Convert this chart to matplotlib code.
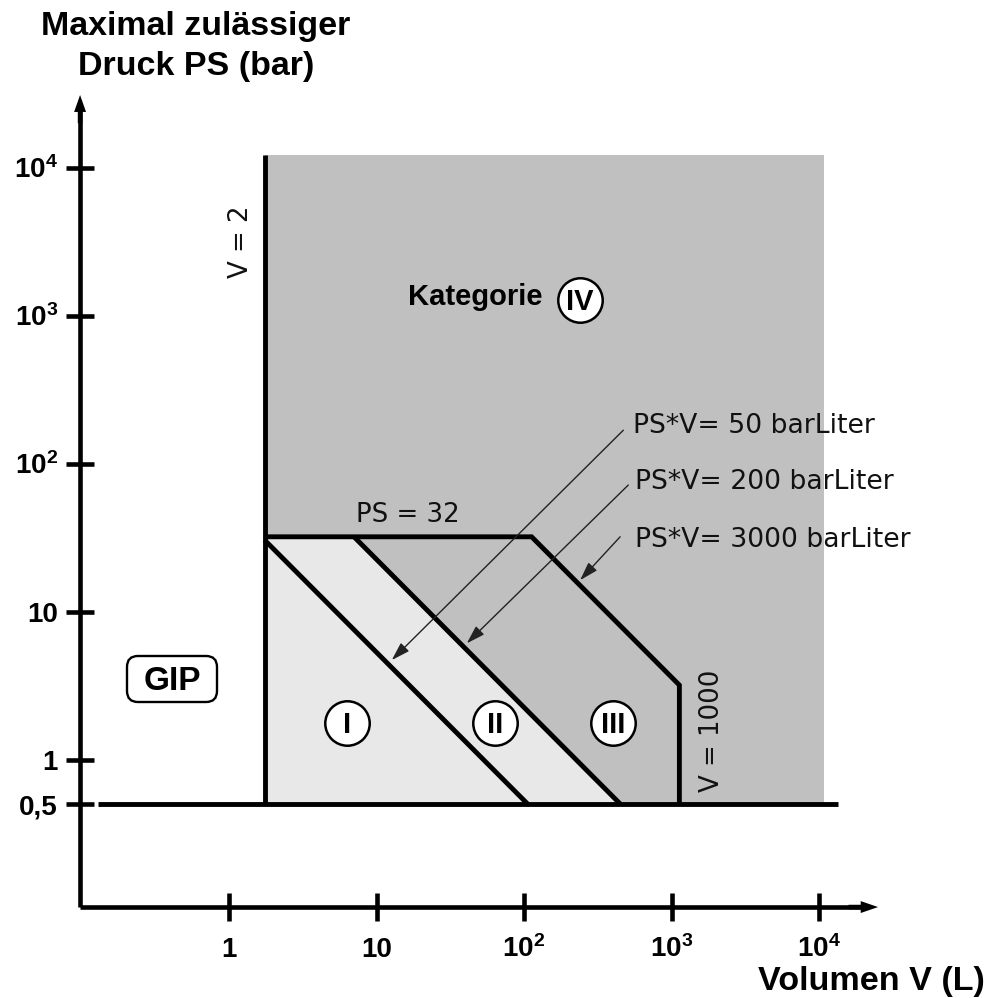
import matplotlib
matplotlib.use("Agg")
import matplotlib.pyplot as plt
from matplotlib.patches import FancyBboxPatch
from matplotlib.ticker import NullLocator

plt.rcParams['mathtext.fontset'] = 'custom'
plt.rcParams['mathtext.bf'] = 'Liberation Sans:bold'
plt.rcParams['mathtext.rm'] = 'Liberation Sans:bold'
plt.rcParams['mathtext.default'] = 'bf'

# Grenzen der Kategorien (so wie im Diagramm gezeichnet, log-log)
v_min = 1.74          # Linie "V = 2"
v_max = 1130          # Linie "V = 1000"
ps_min = 0.5
ps_cap = 32           # Linie "PS = 32"
pv_values = [53, 225, 3600]   # PS*V = 50 / 200 / 3000 barLiter
pv_labels = ["PS*V= 50 barLiter", "PS*V= 200 barLiter", "PS*V= 3000 barLiter"]
v_area_max = 1.08e4
ps_area_max = 1.22e4

x_ticks = [1, 10, 100, 1000, 10000]
x_ticklabels = ["1", "10", "$10^{2}$", "$10^{3}$", "$10^{4}$"]
y_ticks = [0.5, 1, 10, 100, 1000, 10000]
y_ticklabels = ["0,5", "1", "10", "$10^{2}$", "$10^{3}$", "$10^{4}$"]

kat_names = ["I", "II", "III"]
kat_v = [6.28, 63.6, 403]

# Beschriftungen / Hinweispfeile (Datenkoordinaten V, PS)
pv_label_v = [548, 566, 566]
pv_label_ps = [160.7, 67.3, 27.3]
arrow_start = [(471, 168), (509, 71.6), (448, 32.0)]
arrow_tip = [(12.68, 4.70), (40.9, 6.10), (240, 16.3)]

bold = ['Liberation Sans', 'DejaVu Sans']
dark = '#c0c0c0'
light = '#e8e8e8'
lw = 3.5

fig = plt.figure(figsize=(9.9, 9.98), dpi=100)
ax = fig.add_axes([0, 0, 1, 1])
ax.set_xscale('log')
ax.set_yscale('log')
ax.set_xlim(10 ** -1.553, 10 ** 5.159)
ax.set_ylim(10 ** -1.611, 10 ** 5.132)

# Flaechen
ax.fill([v_min, v_area_max, v_area_max, v_min], [ps_min, ps_min, ps_area_max, ps_area_max],
        color=dark, lw=0, zorder=1)
pv1, pv2, pv3 = pv_values
ax.fill([v_min, v_min, pv2 / ps_cap, pv2 / ps_min], [ps_min, ps_cap, ps_cap, ps_min],
        color=light, lw=0, zorder=2)

# Grenzlinien
kw = dict(color='k', lw=lw, solid_joinstyle='miter', solid_capstyle='butt', zorder=3)
ax.plot([v_min, v_min], [ps_min, ps_area_max], **kw)
ax.plot([v_min, pv1 / ps_min], [pv1 / v_min, ps_min], **kw)
ax.plot([pv2 / ps_cap, pv2 / ps_min], [ps_cap, ps_min], **kw)
ax.plot([v_min, pv3 / ps_cap, v_max, v_max], [ps_cap, ps_cap, pv3 / v_max, ps_min], **kw)
ax.plot([0.129, 1.35e4], [ps_min, ps_min], **kw)

# Achsen
x0, y0 = 0.0977, 0.1008
for s in ['top', 'right']:
    ax.spines[s].set_visible(False)
ax.spines['left'].set_position(('data', x0))
ax.spines['bottom'].set_position(('data', y0))
ax.spines['left'].set_bounds(y0, 10 ** 4.39)
ax.spines['bottom'].set_bounds(x0, 10 ** 4.3)
for s in ['left', 'bottom']:
    ax.spines[s].set_linewidth(3.3)
    ax.spines[s].set_capstyle('butt')
ax.annotate('', xy=(x0, 10 ** 4.49), xytext=(x0, 10 ** 4.3),
            arrowprops=dict(width=3.3, headwidth=8.6, headlength=12.2, color='k', lw=0, shrink=0))
ax.annotate('', xy=(10 ** 4.4, y0), xytext=(10 ** 4.2, y0),
            arrowprops=dict(width=3.3, headwidth=8.6, headlength=12.5, color='k', lw=0, shrink=0))

ax.xaxis.set_minor_locator(NullLocator())
ax.yaxis.set_minor_locator(NullLocator())
ax.set_xticks(x_ticks, x_ticklabels, fontsize=20, fontweight='bold', fontfamily=bold)
ax.set_yticks(y_ticks, y_ticklabels, fontsize=20, fontweight='bold', fontfamily=bold)
ax.tick_params(direction='inout', length=20, width=3.3, color='k')
ax.tick_params(axis='x', pad=26)
ax.tick_params(axis='y', pad=6)
for lab in ax.get_xticklabels():
    lab.set_verticalalignment('baseline')

# Titel
fig.text(196 / 990, 1 - 35 / 998, "Maximal zulässiger", ha='center', va='baseline',
         fontsize=24.5, fontweight='bold', family=bold)
fig.text(196 / 990, 1 - 75 / 998, "Druck PS (bar)", ha='center', va='baseline',
         fontsize=24.5, fontweight='bold', family=bold)
fig.text(985 / 990, 1 - 990 / 998, "Volumen V (L)", ha='right', va='baseline',
         fontsize=24.6, fontweight='bold', family=bold)

# Kategorien
circ = dict(marker='o', ms=32, mfc='white', mec='k', mew=1.8, ls='none', zorder=4)
for name, v in zip(kat_names, kat_v):
    ax.plot(v, 1.77, **circ)
    ax.text(v, 1.51, name, ha='center', va='baseline', fontsize=21,
            fontweight='bold', family=bold, zorder=5)
ax.plot(238, 1282, **circ)
ax.text(238, 1089, "IV", ha='center', va='baseline', fontsize=21,
        fontweight='bold', family=bold, zorder=5)
ax.text(16.4, 1178, "Kategorie", ha='left', va='baseline', fontsize=21,
        fontweight='bold', family=bold, zorder=5)

# GIP
box = FancyBboxPatch((127 / 990, 1 - 702 / 998), 90 / 990, 46 / 998,
                     boxstyle='round,pad=0,rounding_size=0.011',
                     transform=ax.transAxes, fc='white', ec='k', lw=1.7, zorder=4)
ax.add_patch(box)
ax.text(172 / 990, 1 - 690 / 998, "GIP", transform=ax.transAxes, ha='center',
        va='baseline', fontsize=24, fontweight='bold', family=bold, zorder=5)

# Beschriftungen
reg = dict(fontsize=18.7, family='DejaVu Sans', color='#111111', zorder=5)
ax.text(1.206, 3162, "V = 2", rotation=90, ha='center', va='center', **reg)
ax.text(1882, 1.558, "V = 1000", rotation=90, ha='center', va='center', **reg)
ax.text(16.2, 40.2, "PS = 32", ha='center', va='baseline', **reg)
for lab, v, ps, st, tp in zip(pv_labels, pv_label_v, pv_label_ps, arrow_start, arrow_tip):
    ax.text(v, ps, lab, ha='left', va='baseline', fontsize=19.2, family='DejaVu Sans',
            color='#111111', zorder=5)
    ax.annotate('', xy=tp, xytext=st,
                arrowprops=dict(arrowstyle='-|>,head_length=0.8,head_width=0.25',
                                lw=1.0, color='#222222', shrinkA=0, shrinkB=0,
                                mutation_scale=14), zorder=5)

fig.savefig('out.png', dpi=100)
